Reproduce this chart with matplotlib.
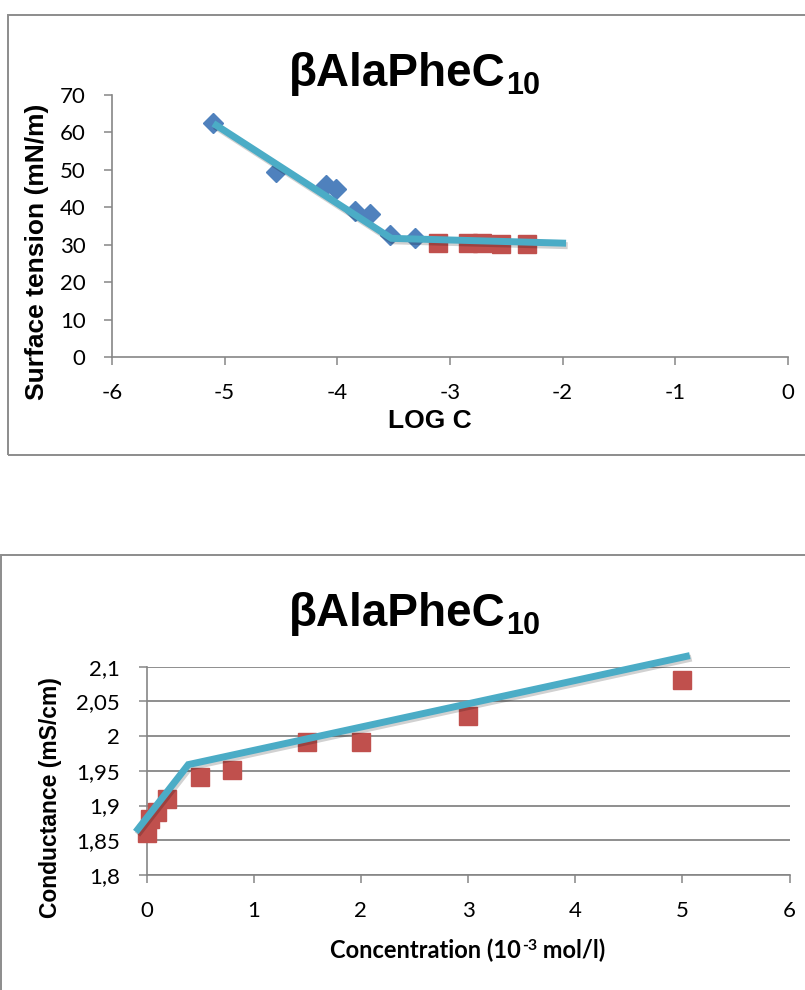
import matplotlib
matplotlib.use("Agg")
import matplotlib.pyplot as plt
from matplotlib import patheffects as pe
from matplotlib.patches import Rectangle

# ---------------- data ----------------
title_text = "βAlaPheC"
title_sub = "10"

# Surface tension chart
st_logc_blue = [-5.10, -4.54, -4.10, -4.01, -3.84, -3.71, -3.53, -3.31]
st_val_blue = [62.5, 49.4, 46.0, 44.8, 39.0, 38.2, 32.6, 31.7]
st_logc_red = [-3.11, -2.84, -2.72, -2.55, -2.32]
st_val_red = [30.4, 30.4, 30.4, 30.3, 30.3]
st_fit_logc = [-5.10, -3.52, -1.97]
st_fit_val = [62.4, 31.7, 30.4]
st_xticks = [-6, -5, -4, -3, -2, -1, 0]
st_xticklabels = ["-6", "-5", "-4", "-3", "-2", "-1", "0"]
st_yticks = [0, 10, 20, 30, 40, 50, 60, 70]
st_yticklabels = ["0", "10", "20", "30", "40", "50", "60", "70"]
st_xlabel = "LOG C"
st_ylabel = "Surface tension (mN/m)"

# Conductance chart
cd_conc = [0.0, 0.03, 0.095, 0.195, 0.5, 0.8, 1.5, 2.0, 3.0, 5.0]
cd_val = [1.861, 1.881, 1.891, 1.910, 1.941, 1.951, 1.991, 1.991, 2.029, 2.081]
cd_fit_conc = [-0.10, 0.39, 5.07]
cd_fit_val = [1.862, 1.959, 2.116]
cd_xticks = [0, 1, 2, 3, 4, 5, 6]
cd_xticklabels = ["0", "1", "2", "3", "4", "5", "6"]
cd_yticks = [1.8, 1.85, 1.9, 1.95, 2.0, 2.05, 2.1]
cd_yticklabels = ["1,8", "1,85", "1,9", "1,95", "2", "2,05", "2,1"]
cd_xlabel_main = "Concentration (10"
cd_xlabel_sup = "-3"
cd_xlabel_tail = " mol/l)"
cd_ylabel = "Conductance (mS/cm)"

# ---------------- style ----------------
BLUE = "#4F81BD"
RED = "#C0504D"
AQUA = "#4BACC6"
GRAY = "#868686"
FRAME = "#8c8c8c"

plt.rcParams["font.family"] = ["Lato", "DejaVu Sans"]
W, H = 805, 990
fig = plt.figure(figsize=(W / 100, H / 100), dpi=100)
renderer = fig.canvas.get_renderer()


def fx(px):
    return px / W


def fy(py):
    return 1 - py / H


def text_width(t):
    return t.get_window_extent(renderer=renderer).width


# chart frames
fig.add_artist(Rectangle((fx(8), fy(455)), fx(830) - fx(8), (455 - 15) / H,
                         fill=False, ec=FRAME, lw=1.4, transform=fig.transFigure))
fig.add_artist(Rectangle((fx(1), fy(1010)), fx(830) - fx(1), (1010 - 555) / H,
                         fill=False, ec=FRAME, lw=1.4, transform=fig.transFigure))

line_fx = [pe.SimpleLineShadow(offset=(1.2, -1.8), alpha=0.18, shadow_color="k"), pe.Normal()]


def style_axes(ax):
    for s in ("top", "right"):
        ax.spines[s].set_visible(False)
    for s in ("left", "bottom"):
        ax.spines[s].set_color(GRAY)
        ax.spines[s].set_linewidth(1.2)
    ax.tick_params(direction="out", length=6, width=1.1, color=GRAY,
                   labelsize=16, pad=13, labelcolor="black")


def draw_title(cx, baseline_px):
    kw = dict(fontfamily="Liberation Sans", fontweight="bold", va="baseline")
    main = fig.text(0, fy(baseline_px), title_text, fontsize=33, ha="left", **kw)
    sub = fig.text(0, fy(baseline_px + 8), title_sub, fontsize=22, ha="left", **kw)
    wm, ws = text_width(main), text_width(sub)
    x0 = cx - (wm + ws) / 2
    main.set_x(fx(x0))
    sub.set_x(fx(x0 + wm + 1))


# ---------- top chart ----------
ax1 = fig.add_axes([fx(112), fy(357), (788 - 112) / W, (357 - 95) / H])
ax1.set_xlim(-6, 0)
ax1.set_ylim(0, 70)
style_axes(ax1)
ax1.set_xticks(st_xticks)
ax1.set_xticklabels(st_xticklabels)
ax1.set_yticks(st_yticks)
ax1.set_yticklabels(st_yticklabels)
ax1.plot(st_logc_blue, st_val_blue, ls="none", marker="D", ms=10, color=BLUE,
         mec=BLUE, zorder=3, clip_on=False)
ax1.plot(st_logc_red, st_val_red, ls="none", marker="s", ms=13.5, color=RED,
         mec=RED, zorder=3, clip_on=False)
ax1.plot(st_fit_logc, st_fit_val, color=AQUA, lw=5, solid_capstyle="butt",
         solid_joinstyle="miter", zorder=4, clip_on=False, path_effects=line_fx)
ax1.set_xlabel(st_xlabel, fontfamily="Liberation Sans", fontweight="bold",
               fontsize=19, va="baseline")
ax1.xaxis.set_label_coords((430 - 112) / 676, (357 - 428) / 262)
ax1.set_ylabel(st_ylabel, fontfamily="Liberation Sans", fontweight="bold",
               fontsize=19, va="center")
ax1.yaxis.set_label_coords((37 - 112) / 676, (357 - 251.5) / 262)

draw_title(414, 86)

# ---------- bottom chart ----------
ax2 = fig.add_axes([fx(146.5), fy(875), (789.5 - 146.5) / W, (875 - 666.7) / H])
ax2.set_xlim(0, 6)
ax2.set_ylim(1.8, 2.1)
style_axes(ax2)
ax2.set_xticks(cd_xticks)
ax2.set_xticklabels(cd_xticklabels)
ax2.set_yticks(cd_yticks)
ax2.set_yticklabels(cd_yticklabels)
ax2.yaxis.grid(True, color=GRAY, lw=1.3)
ax2.set_axisbelow(True)
ax2.plot(cd_conc, cd_val, ls="none", marker="s", ms=13.5, color=RED, mec=RED,
         zorder=3, clip_on=False)
ax2.plot(cd_fit_conc, cd_fit_val, color=AQUA, lw=5, solid_capstyle="butt",
         solid_joinstyle="miter", zorder=4, clip_on=False, path_effects=line_fx)
ax2.set_ylabel(cd_ylabel, fontfamily="Liberation Sans", fontweight="bold",
               fontsize=16.5, va="center")
ax2.yaxis.set_label_coords((51 - 146.5) / 643, (875 - 797.5) / 208.3)

# x label of bottom chart with a superscript, built from three texts
xl_kw = dict(fontfamily="Lato", fontweight="bold", va="baseline", ha="left")
t1 = fig.text(0, fy(958), cd_xlabel_main, fontsize=17, **xl_kw)
t2 = fig.text(0, fy(950), cd_xlabel_sup, fontsize=11.5, **xl_kw)
t3 = fig.text(0, fy(958), cd_xlabel_tail, fontsize=17, **xl_kw)
w1, w2, w3 = text_width(t1), text_width(t2), text_width(t3)
x0 = 467.5 - (w1 + w2 + w3) / 2
t1.set_x(fx(x0))
t2.set_x(fx(x0 + w1 + 0.5))
t3.set_x(fx(x0 + w1 + w2 + 0.5))

draw_title(414, 626)

fig.savefig("out.png", dpi=100, facecolor="white")
